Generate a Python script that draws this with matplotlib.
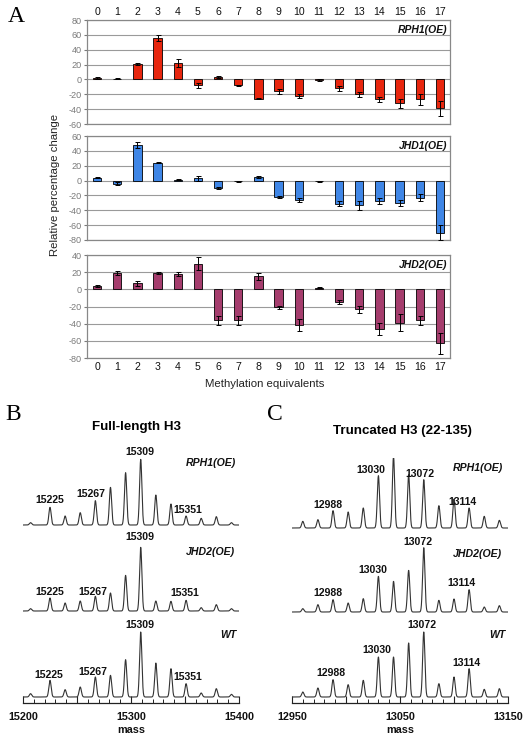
import numpy as np
import matplotlib
matplotlib.use("Agg")
import matplotlib.pyplot as plt
from matplotlib.ticker import MultipleLocator

plt.rcParams['font.family'] = ['Liberation Sans', 'DejaVu Sans']
plt.rcParams['axes.unicode_minus'] = False

# ---------------- Panel A data ----------------
categories = list(range(18))
rph1_vals = [2, 1, 21, 56, 22, -8, 3, -8, -26, -16, -22, -1, -12, -20, -27, -32, -27, -39]
rph1_err = [1, 1, 1, 4, 5, 3.5, 1, 1, 1, 3, 3, 1, 3, 3, 4, 6, 7, 10]
jhd1_vals = [4, -4, 48, 24, 1, 3, -10, -1, 5, -22, -26, -1, -31, -33, -28, -30, -23, -70]
jhd1_err = [1, 1.5, 4, 1, 0.5, 3, 2, 0.5, 1, 1.5, 3, 0.5, 3, 6, 4, 4, 5, 10]
jhd2_vals = [4, 19, 7, 19, 18, 30, -36, -36, 15, -21, -42, 2, -15, -23, -46, -39, -36, -63]
jhd2_err = [1, 2, 3, 1, 2, 8, 5, 5, 4, 2, 7, 0.5, 2, 4, 7, 10, 5, 12]
panelA_names = ['RPH1(OE)', 'JHD1(OE)', 'JHD2(OE)']

# ---------------- Panel B / C data ----------------
B_masses = [15207, 15225, 15239, 15253, 15267, 15281, 15295, 15309, 15323, 15337, 15351, 15365, 15379, 15393]
B_rph1 = [3.5, 26.5, 13.5, 18.5, 36.5, 56.5, 78.5, 98.5, 45, 31.5, 13.5, 10, 12.5, 3.5]
B_jhd2 = [3.5, 19.5, 12, 15, 22, 27, 53.5, 95.5, 15, 14.5, 16, 5, 9.5, 3.5]
B_wt = [5, 25, 11, 15, 30, 32.5, 56, 97.5, 51, 42.5, 20, 6, 12.5, 4]

C_masses = [12960, 12974, 12988, 13002, 13016, 13030, 13044, 13058, 13072, 13086, 13100, 13114, 13128, 13142]
C_rph1 = [10, 12.5, 26, 24, 30, 78.5, 107.5, 80, 72.5, 33.5, 43.5, 30, 17.5, 11.5]
C_jhd2 = [5, 11, 18.5, 13.5, 20, 53.5, 46, 62.5, 96.5, 17.5, 19.5, 33.5, 7.5, 9.5]
C_wt = [7.5, 13.5, 26, 18.5, 25, 60, 60, 81, 97.5, 20, 30, 42.5, 11.5, 12.5]

B_xlim = (15200, 15400)
C_xlim = (12950, 13150)
B_ticks = [15200, 15300, 15400]
C_ticks = [12950, 13050, 13150]

W, H = 532, 741
fig = plt.figure(figsize=(W / 100, H / 100), dpi=100)


def rect(l, t, r, b):
    return [l / W, 1 - b / H, (r - l) / W, (b - t) / H]


def ftext(x, y, s, **kw):
    fig.text(x / W, 1 - y / H, s, **kw)


# ---------------- Panel A ----------------
colors = ['#e8260e', '#3f86e6', '#a53d6d']
vals_list = [rph1_vals, jhd1_vals, jhd2_vals]
errs_list = [rph1_err, jhd1_err, jhd2_err]
ylims = [(-60, 80), (-80, 60), (-80, 40)]
rects = [rect(87, 20, 450, 124), rect(87, 136, 450, 240), rect(87, 255, 450, 358)]
grey = '#888888'
for i in range(3):
    ax = fig.add_axes(rects[i])
    ax.bar(categories, vals_list[i], width=0.42, color=colors[i], edgecolor='black',
           linewidth=0.6, zorder=3)
    ax.errorbar(categories, vals_list[i], yerr=errs_list[i], fmt='none', ecolor='black',
                elinewidth=0.7, capsize=1.8, capthick=0.7, zorder=4)
    ax.set_xlim(-0.5, 17.5)
    ax.set_ylim(*ylims[i])
    ax.yaxis.set_major_locator(MultipleLocator(20))
    ax.grid(axis='y', color='#9a9a9a', linewidth=0.8, zorder=0)
    for sp in ax.spines.values():
        sp.set_color(grey)
        sp.set_linewidth(0.9)
    ax.tick_params(axis='y', labelsize=6.6, colors='#7a7a7a', length=2, pad=1.5)
    ax.tick_params(axis='x', length=0, labelsize=7.6, labelcolor='#111111')
    ax.set_xticks(categories)
    if i == 0:
        ax.xaxis.tick_top()
        ax.tick_params(axis='x', pad=2.5)
    elif i == 2:
        ax.tick_params(axis='x', pad=3)
    else:
        ax.set_xticklabels([])
    ax.text(0.992, 0.9, panelA_names[i], transform=ax.transAxes, ha='right', va='center',
            fontsize=7.5, fontweight='bold', fontstyle='italic', color='#111111')

ftext(265, 384, 'Methylation equivalents', ha='center', va='center', fontsize=8.2, color='#222222')
ftext(55, 185, 'Relative percentage change', ha='center', va='center', rotation=90,
      fontsize=8.2, color='#222222')

# panel letters
ftext(16, 17, 'A', ha='center', va='center', fontsize=17, family='Liberation Serif')
ftext(13, 414, 'B', ha='center', va='center', fontsize=17, family='Liberation Serif')
ftext(275, 414, 'C', ha='center', va='center', fontsize=17, family='Liberation Serif')

ftext(137, 427, 'Full-length H3', ha='center', va='center', fontsize=9.6, fontweight='bold')
ftext(402, 431, 'Truncated H3 (22-135)', ha='center', va='center', fontsize=9.6, fontweight='bold')


# ---------------- Spectra ----------------
def spectrum(ax, masses, intens, xlim, sigma=1.05):
    x = np.linspace(xlim[0], xlim[1], 3000)
    m = np.asarray(masses, float)[:, None]
    I = np.asarray(intens, float)[:, None]
    y = (I * np.exp(-(x[None, :] - m) ** 2 / (2 * sigma ** 2))).sum(axis=0)
    ax.plot(x, y, color='#333333', linewidth=0.8)
    ax.set_xlim(*xlim)
    ax.set_ylim(-9, 105)
    ax.set_yticks([])


lab_kw = dict(ha='center', va='center', fontsize=7.6, fontweight='bold', color='#111111')
name_kw = dict(ha='center', va='center', fontsize=7.6, fontweight='bold', fontstyle='italic',
               color='#111111')

panels = [
    dict(left=23, right=239, masses=B_masses, xlim=B_xlim, ticks=B_ticks,
         rows=[(525, B_rph1, 'RPH1(OE)', (15374, 93),
                [('15309', 15308, 109.5), ('15225', 15225, 37.5), ('15267', 15263, 46.5), ('15351', 15353, 22.5)]),
               (611, B_jhd2, 'JHD2(OE)', (15374, 88.5),
                [('15309', 15308, 111), ('15225', 15225, 28.5), ('15267', 15265, 28.5), ('15351', 15350, 27)]),
               (697, B_wt, 'WT', (15390, 93),
                [('15309', 15308, 108), ('15225', 15224, 33), ('15267', 15265, 37.5), ('15351', 15353, 30)])]),
    dict(left=292, right=508, masses=C_masses, xlim=C_xlim, ticks=C_ticks,
         rows=[(528, C_rph1, 'RPH1(OE)', (13122, 90),
                [('13030', 13023, 87), ('13072', 13068.5, 81), ('12988', 12983, 34.5), ('13114', 13108, 39)]),
               (612, C_jhd2, 'JHD2(OE)', (13122, 87),
                [('13072', 13067, 105), ('13030', 13025, 63), ('12988', 12983, 28.5), ('13114', 13107, 43.5)]),
               (697, C_wt, 'WT', (13140, 93),
                [('13072', 13070, 108), ('13030', 13029, 70.5), ('12988', 12986, 36), ('13114', 13112, 51)])]),
]

for p in panels:
    for k, (base, intens, name, npos, labels) in enumerate(p['rows']):
        ax = fig.add_axes(rect(p['left'], base - 70, p['right'], base + 6))
        ax.patch.set_alpha(0)
        spectrum(ax, p['masses'], intens, p['xlim'])
        for sp in ['top', 'left', 'right']:
            ax.spines[sp].set_visible(False)
        if k < 2:
            ax.spines['bottom'].set_visible(False)
            ax.set_xticks([])
        else:
            ax.spines['bottom'].set_color('#222222')
            ax.spines['bottom'].set_linewidth(0.9)
            ax.xaxis.set_major_locator(MultipleLocator(50))
            ax.xaxis.set_minor_locator(MultipleLocator(10))
            ax.set_xticklabels([])
            ax.tick_params(axis='x', which='major', direction='in', length=5, width=0.8,
                           color='#222222')
            ax.tick_params(axis='x', which='minor', direction='in', length=3, width=0.7,
                           color='#222222')
            for t in p['ticks']:
                ax.annotate(str(t), (t, 0), xycoords=('data', 'axes fraction'),
                            xytext=(0, -6.3), textcoords='offset points',
                            ha='center', va='top', fontsize=7.8, fontweight='bold',
                            color='#111111', annotation_clip=False)
            ax.annotate('mass', (0.5, 0), xycoords='axes fraction',
                        xytext=(0, -19.5), textcoords='offset points',
                        ha='center', va='center', fontsize=7.8, fontweight='bold',
                        color='#111111', annotation_clip=False)
        ax.text(npos[0], npos[1], name, **name_kw)
        for s, xm, ym in labels:
            ax.text(xm, ym, s, **lab_kw)

fig.savefig('out.png', dpi=100)
